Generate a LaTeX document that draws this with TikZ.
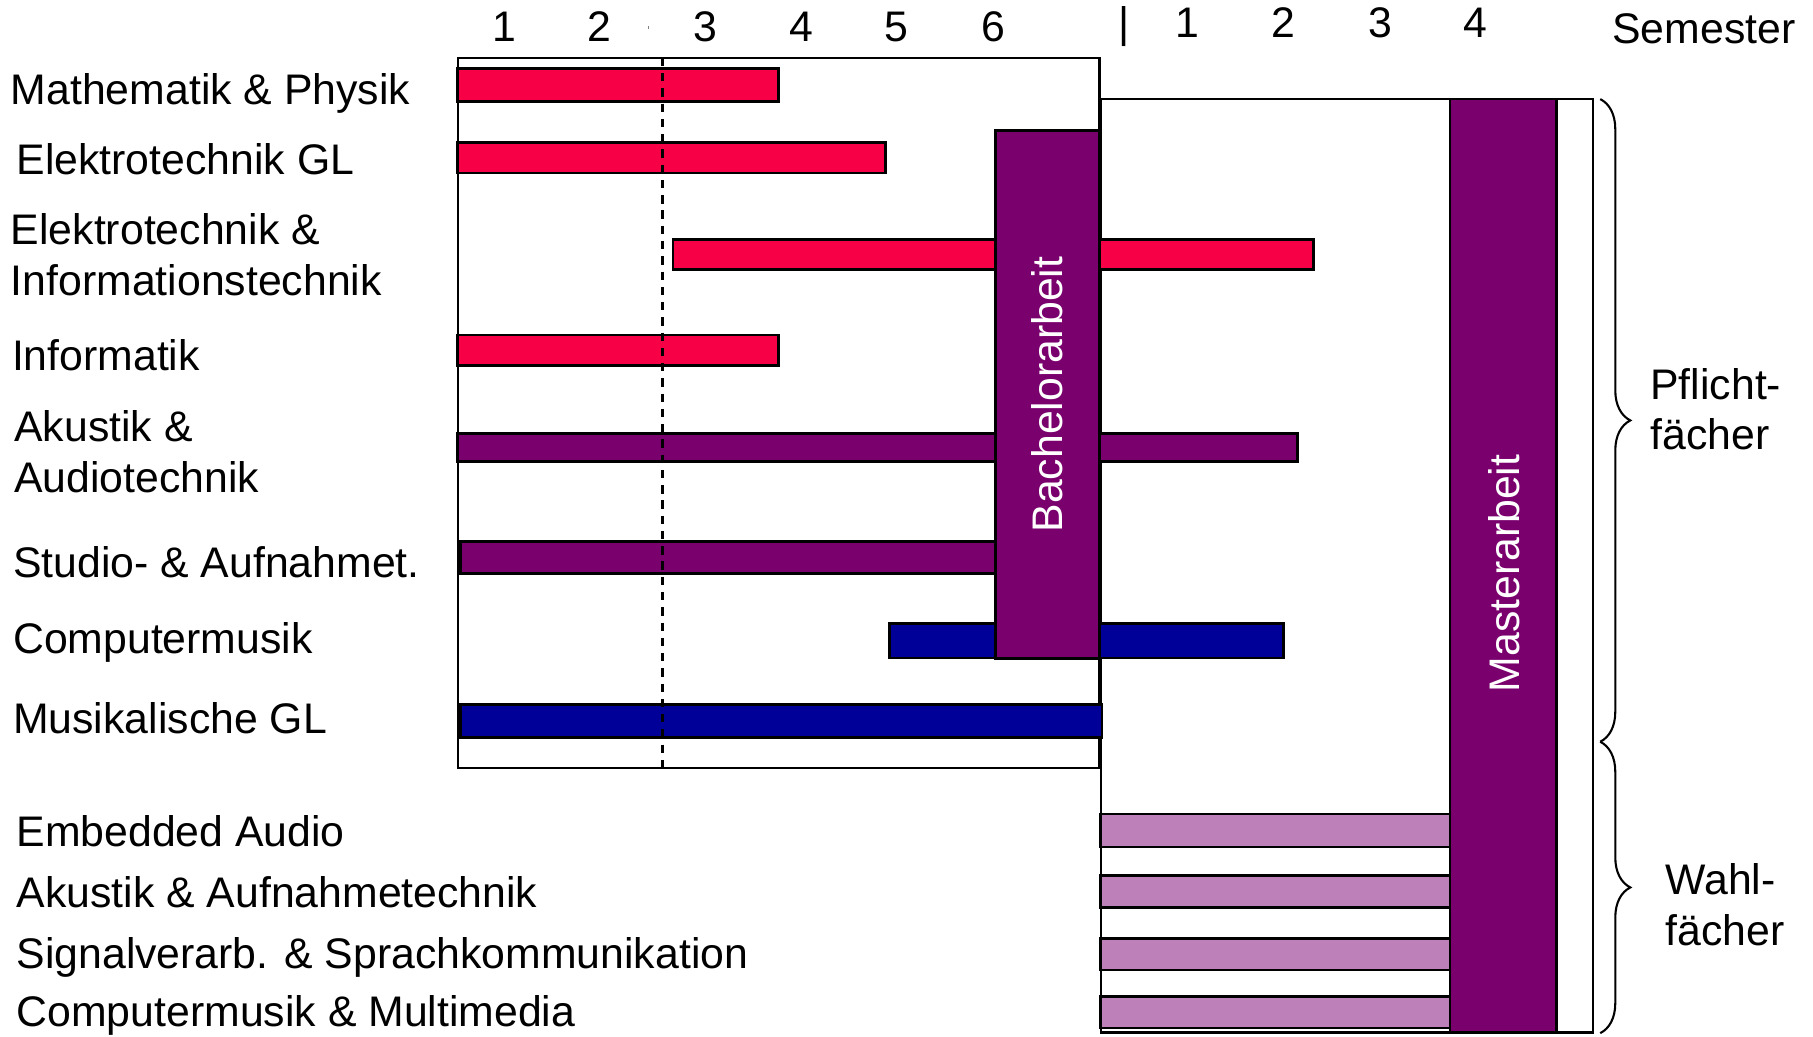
\documentclass[tikz,border=0pt]{standalone}
\usepackage{fontspec}
\setmainfont{Liberation Sans}
\usetikzlibrary{decorations.pathreplacing}

\definecolor{pflichtred}{RGB}{247,0,70}
\definecolor{thesispurple}{RGB}{122,0,110}
\definecolor{musicblue}{RGB}{0,0,153}
\definecolor{wahlpink}{RGB}{190,128,184}

\begin{document}
\begin{tikzpicture}[x=0.5pt, y=-0.5pt,
        lbl/.style = {anchor=base west, inner sep=0pt, font=\fontsize{18.5}{22}\selectfont},
        num/.style = {anchor=base, inner sep=0pt, font=\fontsize{18.5}{22}\selectfont},
        frame/.style = {draw, line width=1pt},
        bar/.style = {draw, line width=1.2pt, fill=#1},
        thesis/.style = {rotate=90, inner sep=0pt, text=white, font=\fontsize{18.5}{22}\selectfont},
        brc/.style = {decorate, decoration={brace, amplitude=13pt}, line width=0.9pt}]
    \useasboundingbox (0,0) rectangle (1568,896);

    % Semester
    \node[num] (b1) at (436,35.5) {1};
    \node[num] (b2) at (518,35.5) {2};
    \node[num] (b3) at (610,35.5) {3};
    \node[num] (b4) at (693,35.5) {4};
    \node[num] (b5) at (775,35.5) {5};
    \node[num] (b6) at (859,35.5) {6};
    \draw[line width=0.5pt, gray] (561,22.5) -- (561,25.5);
    \node[num] (sep) at (972,32.3) {|};
    \node[num] (m1) at (1027,32.3) {1};
    \node[num] (m2) at (1110,32.3) {2};
    \node[num] (m3) at (1194,32.3) {3};
    \node[num] (m4) at (1276,32.3) {4};
    \node[lbl] (sem) at (1394,37.5) {Semester};

    % Rahmen
    \draw[frame, fill=white] (952,85.7) rectangle (1378,893);
    \draw[frame] (396,50) rectangle (951,664);

    % Pflichtfaecher
    \draw[bar=pflichtred] (396,59.4) rectangle (673,88);
    \draw[bar=pflichtred] (396,123.4) rectangle (766,149.7);
    \draw[bar=pflichtred] (582,206.9) rectangle (1136,233.1);
    \draw[bar=pflichtred] (396,289.7) rectangle (673,316);
    \draw[bar=thesispurple] (396,374.9) rectangle (1122,398.9);
    \draw[bar=thesispurple] (398,468.6) rectangle (861,496);
    \draw[bar=musicblue] (769,539.4) rectangle (1110,569);
    \draw[bar=musicblue] (398,609) rectangle (953,637.7);

    \draw[line width=1pt, dash pattern=on 3.6pt off 3pt] (573,50) -- (573,664);

    % Abschlussarbeiten
    \draw[bar=thesispurple] (861,112.6) rectangle (951,569.7);
    \node[thesis] (ba) at (906,341.2) {Bachelorarbeit};
    \draw[bar=thesispurple] (1254,85.7) rectangle (1346,893);
    \node[thesis] (ma) at (1301,496) {Masterarbeit};

    % Wahlfaecher
    \draw[bar=wahlpink] (952,704) rectangle (1254,732.6);
    \draw[bar=wahlpink] (952,757) rectangle (1254,785);
    \draw[bar=wahlpink] (952,811.4) rectangle (1254,838.9);
    \draw[bar=wahlpink] (952,861.7) rectangle (1254,889);

    % Klammern
    \coordinate (p1) at (1384,85.7);
    \coordinate (p2) at (1384,641.5);
    \coordinate (p3) at (1384,893.5);
    \draw[brc] (p1) -- (p2);
    \draw[brc] (p2) -- (p3);
    \node[lbl] (pf1) at (1427,345.7) {Pflicht-};
    \node[lbl] (pf2) at (1427,388.6) {fächer};
    \node[lbl] (wf1) at (1440,774) {Wahl-};
    \node[lbl] (wf2) at (1440,817.4) {fächer};

    % Faecher
    \node[lbl] (math) at (9,90.2) {Mathematik \& Physik};
    \node[lbl] (etgl) at (14,150.8) {Elektrotechnik GL};
    \node[lbl] (etit1) at (9,211.3) {Elektrotechnik \&};
    \node[lbl] (etit2) at (9,255.2) {Informationstechnik};
    \node[lbl] (inf) at (10,320) {Informatik};
    \node[lbl] (ak1) at (12,381.4) {Akustik \&};
    \node[lbl] (ak2) at (12,425.8) {Audiotechnik};
    \node[lbl] (studio) at (11,499.2) {Studio- \& Aufnahmet.};
    \node[lbl] (cm) at (11,565) {Computermusik};
    \node[lbl] (mgl) at (11,634) {Musikalische GL};
    \node[lbl] (ea) at (14,731.9) {Embedded Audio};
    \node[lbl] (aat) at (14,784.5) {Akustik \& Aufnahmetechnik};
    \node[lbl] (sig) at (14,837.8) {Signalverarb. \& Sprachkommunikation};
    \node[lbl] (cmm) at (14,888) {Computermusik \& Multimedia};
\end{tikzpicture}
\end{document}
